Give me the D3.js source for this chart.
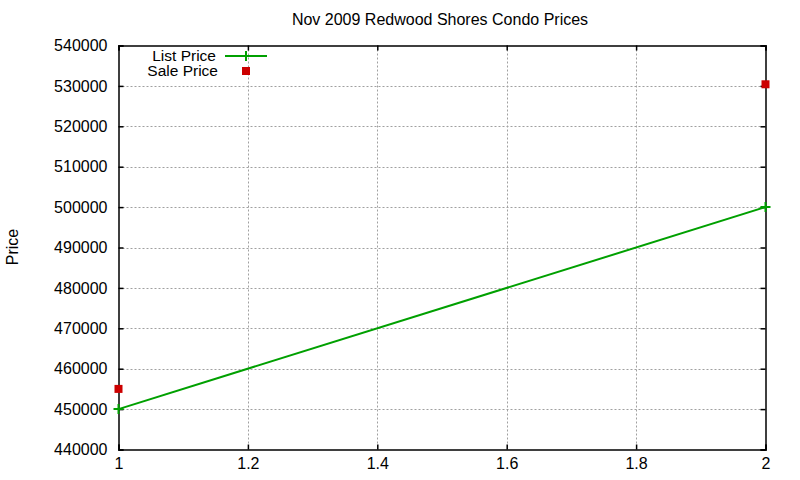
<!DOCTYPE html>
<html>
<head>
<meta charset="utf-8">
<script src="https://cdn.jsdelivr.net/npm/d3@7"></script>
<style>
  body { margin: 0; background: #fff; }
  text { font-family: "Liberation Sans", Arial, sans-serif; fill: #000; }
</style>
</head>
<body>
<svg width="800" height="480"></svg>
<script>
// data
var listX = [1, 2];
var listPrice = [450000, 500000];
var saleX = [1, 2];
var salePrice = [455000, 530400];
var xTicks = [1, 1.2, 1.4, 1.6, 1.8, 2];
var yTicks = [440000, 450000, 460000, 470000, 480000, 490000, 500000, 510000, 520000, 530000, 540000];

var svg = d3.select("svg"),
    pLeft = 118.5, pRight = 765.5, pTop = 45.5, pBottom = 449.5;

var x = d3.scaleLinear().domain([1, 2]).range([pLeft, pRight]);
var y = d3.scaleLinear().domain([440000, 540000]).range([pBottom, pTop]);

var green = "#00a000", red = "#cc0000";

// grid
var grid = svg.append("g").attr("stroke", "#a0a0a0").attr("stroke-dasharray", "2,2").attr("stroke-width", 1);
grid.selectAll(".gx").data(xTicks.slice(1, -1)).enter().append("line")
    .attr("x1", function(d) { return Math.round(x(d)) + 0.5; })
    .attr("x2", function(d) { return Math.round(x(d)) + 0.5; })
    .attr("y1", pTop).attr("y2", pBottom);
grid.selectAll(".gy").data(yTicks.slice(1, -1)).enter().append("line")
    .attr("y1", function(d) { return Math.round(y(d)) + 0.5; })
    .attr("y2", function(d) { return Math.round(y(d)) + 0.5; })
    .attr("x1", pLeft).attr("x2", pRight);

// axes with inward ticks, mirrored
var ax = svg.append("g");
ax.append("g").attr("transform", "translate(0," + pBottom + ")")
  .call(d3.axisBottom(x).tickValues(xTicks).tickSize(-5).tickPadding(8).tickFormat(d3.format("")));
ax.append("g").attr("transform", "translate(0," + pTop + ")")
  .call(d3.axisTop(x).tickValues(xTicks).tickSize(-5).tickFormat(""));
ax.append("g").attr("transform", "translate(" + pLeft + ",0)")
  .call(d3.axisLeft(y).tickValues(yTicks).tickSize(-5).tickPadding(11).tickFormat(d3.format("d")));
ax.append("g").attr("transform", "translate(" + pRight + ",0)")
  .call(d3.axisRight(y).tickValues(yTicks).tickSize(-5).tickFormat(""));
ax.selectAll(".domain").attr("stroke", "#000").attr("stroke-width", 1.5);
ax.selectAll(".tick line").attr("stroke", "#000").attr("stroke-width", 1.5);
ax.selectAll("text").attr("font-family", "Liberation Sans, Arial, sans-serif")
  .attr("font-size", 16).attr("fill", "#000");

// list price line with + markers
var listData = listX.map(function(d, i) { return [d, listPrice[i]]; });
svg.append("path")
  .datum(listData)
  .attr("fill", "none").attr("stroke", green).attr("stroke-width", 2)
  .attr("d", d3.line().x(function(d) { return x(d[0]); }).y(function(d) { return y(d[1]); }));

function plus(g, cx, cy) {
  g.append("path").attr("stroke", green).attr("stroke-width", 2)
    .attr("d", "M" + (cx - 5) + "," + cy + "H" + (cx + 5) + "M" + cx + "," + (cy - 5) + "V" + (cy + 5));
}
listData.forEach(function(d) { plus(svg, x(d[0]), y(d[1])); });

// sale price squares
svg.selectAll(".sale").data(saleX.map(function(d, i) { return [d, salePrice[i]]; }))
  .enter().append("rect")
  .attr("x", function(d) { return x(d[0]) - 4; })
  .attr("y", function(d) { return y(d[1]) - 4; })
  .attr("width", 8).attr("height", 8)
  .attr("fill", red);

// legend
svg.append("text").attr("x", 216).attr("y", 61).attr("text-anchor", "end").attr("font-size", 15.5).text("List Price");
svg.append("line").attr("x1", 225).attr("x2", 267).attr("y1", 56).attr("y2", 56).attr("stroke", green).attr("stroke-width", 2);
plus(svg, 246, 56);
svg.append("text").attr("x", 218).attr("y", 76).attr("text-anchor", "end").attr("font-size", 15.5).text("Sale Price");
svg.append("rect").attr("x", 242).attr("y", 67).attr("width", 8).attr("height", 8).attr("fill", red);

// title and y label
svg.append("text").attr("x", 440).attr("y", 25).attr("text-anchor", "middle").attr("font-size", 16)
  .text("Nov 2009 Redwood Shores Condo Prices");
svg.append("text").attr("transform", "translate(18,247) rotate(-90)").attr("text-anchor", "middle")
  .attr("font-size", 16).text("Price");
</script>
</body>
</html>
